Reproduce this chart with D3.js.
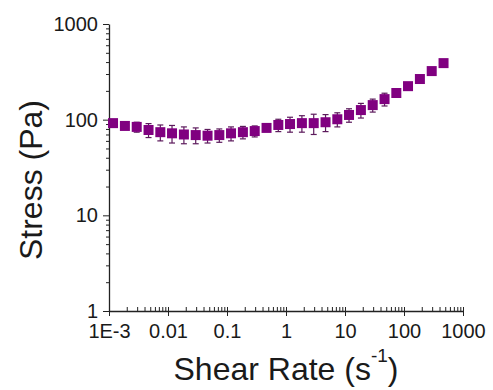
<!DOCTYPE html>
<html lang="en">
<head>
    <meta charset="UTF-8">
    <title>Stress vs Shear Rate</title>
    <script src="https://d3js.org/d3.v7.min.js"></script>
    <style>
        body { margin: 0; background: white; }
        text { font-family: "Liberation Sans", Arial, sans-serif; fill: #1a1a1a; }
    </style>
</head>
<body>
<svg id="chart" width="493" height="390"></svg>

<script>
    // Values.
    const shearRate = [0.00117, 0.00186, 0.00295, 0.00468, 0.00741, 0.0117, 0.0186, 0.0295, 0.0468, 0.0741,
                       0.117, 0.186, 0.295, 0.468, 0.741, 1.17, 1.86, 2.95, 4.68, 7.41,
                       11.7, 18.6, 29.5, 46.8, 74.1, 117, 186, 295, 468];
    const stress = [92, 86, 84, 78, 74, 72, 70, 69, 68, 69,
                    72, 74, 76, 82, 88, 90, 92, 92, 94, 101,
                    112, 126, 142, 164, 190, 224, 266, 322, 390];
    const stressErr = [6, 7, 10, 13, 14, 15, 14, 13, 11, 11,
                       12, 11, 10, 6, 13, 16, 18, 22, 19, 17,
                       18, 22, 22, 25, 9, 11, 13, 15, 18];

    const xTicks = [1e-3, 0.01, 0.1, 1, 10, 100, 1000];
    const xTickLabels = ["1E-3", "0.01", "0.1", "1", "10", "100", "1000"];
    const yTicks = [1, 10, 100, 1000];
    const yTickLabels = ["1", "10", "100", "1000"];

    const svg = d3.select("#chart");

    // Log scales for both axes.
    const x = d3.scaleLog().domain([1e-3, 1000]).range([109, 463]);
    const y = d3.scaleLog().domain([1, 1000]).range([311, 24]);

    // Minor ticks at 2..9 of each decade.
    const minor = (lo, hi) => {
        let out = [];
        for (let p = lo; p < hi; p++) {
            for (let m = 2; m <= 9; m++) out.push(m * Math.pow(10, p));
        }
        return out;
    };

    // Y axis: major + minor, pointing left.
    svg.append("g")
        .attr("transform", "translate(109,0)")
        .call(d3.axisLeft(y).tickValues(minor(0, 3)).tickSize(3).tickFormat(""))
        .call(g => g.select(".domain").remove())
        .call(g => g.selectAll("line").attr("stroke", "#222"));

    svg.append("g")
        .attr("transform", "translate(109,0)")
        .call(d3.axisLeft(y).tickValues(yTicks).tickSize(6).tickPadding(5)
            .tickFormat((d, i) => yTickLabels[i]).tickSizeOuter(0))
        .call(g => g.select(".domain").attr("stroke", "#222").attr("stroke-width", 1.3))
        .call(g => g.selectAll("line").attr("stroke", "#222"))
        .call(g => g.selectAll("text").attr("font-size", 20).style("fill", "#1a1a1a"));

    // X axis: minor ticks pointing up, major ticks down.
    svg.append("g")
        .attr("transform", "translate(0,311)")
        .call(d3.axisTop(x).tickValues(minor(-3, 3).concat(xTicks)).tickSize(4).tickFormat(""))
        .call(g => g.select(".domain").remove())
        .call(g => g.selectAll("line").attr("stroke", "#222"));

    svg.append("g")
        .attr("transform", "translate(0,311)")
        .call(d3.axisBottom(x).tickValues(xTicks).tickSize(5).tickPadding(8)
            .tickFormat((d, i) => xTickLabels[i]).tickSizeOuter(0))
        .call(g => g.select(".domain").attr("stroke", "#222").attr("stroke-width", 1.3))
        .call(g => g.selectAll("line").attr("stroke", "#222"))
        .call(g => g.selectAll("text").attr("font-size", 20).style("fill", "#1a1a1a"));

    const pts = shearRate.map((d, i) => ({x: d, y: stress[i], e: stressErr[i]}));

    // Error bars first, squares on top.
    const eb = svg.append("g").attr("stroke", "#5c1a5c").attr("stroke-width", 1.2);
    eb.selectAll("line.v")
        .data(pts).enter().append("line")
        .attr("class", "v")
        .attr("x1", d => x(d.x)).attr("x2", d => x(d.x))
        .attr("y1", d => y(d.y - d.e)).attr("y2", d => y(d.y + d.e));
    eb.selectAll("line.lo")
        .data(pts).enter().append("line")
        .attr("class", "lo")
        .attr("x1", d => x(d.x) - 3).attr("x2", d => x(d.x) + 3)
        .attr("y1", d => y(d.y - d.e)).attr("y2", d => y(d.y - d.e));
    eb.selectAll("line.hi")
        .data(pts).enter().append("line")
        .attr("class", "hi")
        .attr("x1", d => x(d.x) - 3).attr("x2", d => x(d.x) + 3)
        .attr("y1", d => y(d.y + d.e)).attr("y2", d => y(d.y + d.e));

    svg.append("g")
        .selectAll("rect")
        .data(pts).enter().append("rect")
        .attr("x", d => x(d.x) - 5)
        .attr("y", d => y(d.y) - 5)
        .attr("width", 10)
        .attr("height", 10)
        .attr("fill", "#800080");

    // Axis titles.
    const xt = svg.append("text")
        .attr("x", 286)
        .attr("y", 380)
        .attr("text-anchor", "middle")
        .attr("font-size", 32);
    xt.append("tspan").text("Shear Rate (s");
    xt.append("tspan").attr("font-size", 19).attr("dy", -18).text("-1");
    xt.append("tspan").attr("dy", 18).text(")");

    svg.append("text")
        .attr("transform", "translate(42,180) rotate(-90)")
        .attr("text-anchor", "middle")
        .attr("font-size", 32)
        .text("Stress (Pa)");
</script>
</body>
</html>
